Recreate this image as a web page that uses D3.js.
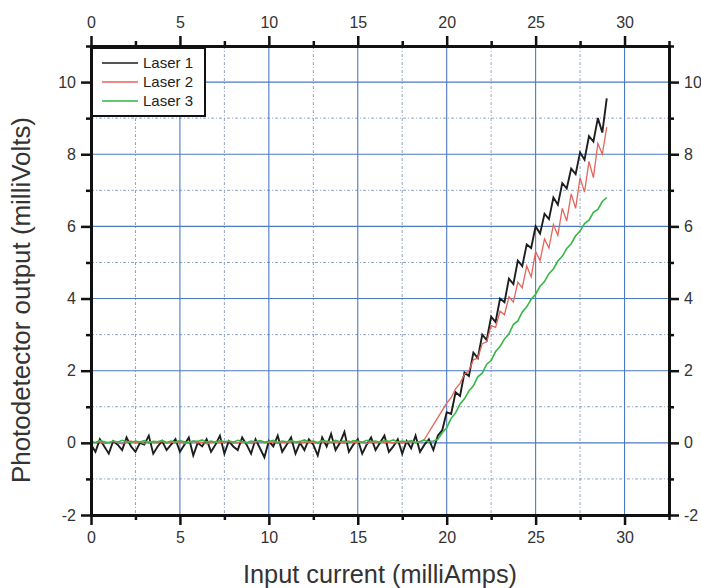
<!DOCTYPE html>
<html><head><meta charset="utf-8">
<script src="https://cdn.jsdelivr.net/npm/d3@7"></script>
<style>body{margin:0;background:#fff}svg{display:block}text{font-family:"Liberation Sans",Arial,sans-serif}</style>
</head><body><svg id="c" width="701" height="588"></svg>
<script>
// ---- data ----
const current = [0,0.25,0.5,0.75,1,1.25,1.5,1.75,2,2.25,2.5,2.75,3,3.25,3.5,3.75,4,4.25,4.5,4.75,5,5.25,5.5,5.75,6,6.25,6.5,6.75,7,7.25,7.5,7.75,8,8.25,8.5,8.75,9,9.25,9.5,9.75,10,10.25,10.5,10.75,11,11.25,11.5,11.75,12,12.25,12.5,12.75,13,13.25,13.5,13.75,14,14.25,14.5,14.75,15,15.25,15.5,15.75,16,16.25,16.5,16.75,17,17.25,17.5,17.75,18,18.25,18.5,18.75,19,19.25,19.5,19.75,20,20.25,20.5,20.75,21,21.25,21.5,21.75,22,22.25,22.5,22.75,23,23.25,23.5,23.75,24,24.25,24.5,24.75,25,25.25,25.5,25.75,26,26.25,26.5,26.75,27,27.25,27.5,27.75,28,28.25,28.5,28.75,29];
const laser1 = [-0.05,-0.25,0.1,-0.1,-0.3,0.05,-0.05,-0.2,0.15,-0.1,
 -0.25,0.0,-0.05,0.2,-0.3,-0.1,0.05,-0.2,-0.05,0.1,
 -0.25,-0.05,0.15,-0.35,0.0,-0.1,0.1,-0.25,-0.05,0.2,
 -0.3,0.05,-0.1,-0.2,0.15,-0.05,-0.3,0.1,-0.15,-0.4,
 0.05,-0.1,0.2,-0.25,-0.05,0.15,-0.3,0.0,-0.2,0.1,
 -0.05,-0.35,0.15,-0.1,0.25,-0.2,0.0,0.3,-0.25,-0.05,
 0.1,-0.3,-0.05,0.15,-0.2,0.0,0.2,-0.25,-0.1,0.1,
 -0.3,0.05,-0.15,0.2,-0.25,-0.05,0.1,-0.2,
 0.2,0.35,0.85,0.8,1.4,1.3,1.95,1.85,2.5,2.35,
 3.0,2.85,3.5,3.35,4.0,3.9,4.55,4.4,5.05,4.9,
 5.5,5.4,6.0,5.8,6.35,6.2,6.8,6.6,7.2,7.05,
 7.6,7.45,8.05,7.85,8.5,8.35,9.0,8.6,9.55];
const laser2 = [0.02,0.0,0.03,-0.02,0.01,0.04,0.0,-0.03,0.02,0.05,
 0.0,0.02,-0.02,0.03,0.01,0.0,0.04,-0.01,0.02,0.0,
 0.03,-0.02,0.01,0.05,0.0,0.02,-0.03,0.01,0.03,0.0,
 0.02,0.04,-0.01,0.0,0.03,0.01,-0.02,0.02,0.05,0.0,
 0.01,0.03,-0.02,0.02,0.0,0.04,0.01,-0.01,0.03,0.0,
 0.02,-0.02,0.04,0.01,0.0,0.03,0.02,-0.01,0.05,0.0,
 0.02,0.01,-0.02,0.03,0.0,0.04,0.01,0.02,-0.01,0.03,
 0.0,0.02,0.04,0.01,0.03,
 0.1,0.3,0.5,0.7,0.9,1.1,1.25,1.5,1.65,1.9,
 2.0,2.3,2.35,2.75,2.8,3.25,3.2,3.65,3.55,4.05,
 3.9,4.45,4.3,4.9,4.6,5.3,5.05,5.65,5.4,6.05,
 5.75,6.5,6.15,6.9,6.5,7.35,6.95,7.8,7.35,8.3,
 8.0,8.75];
const laser3 = [0.04,0.01,0.06,0.03,0.0,0.05,0.02,0.07,0.03,0.01,
 0.05,0.02,0.06,0.0,0.04,0.03,0.07,0.01,0.05,0.02,
 0.06,0.03,0.0,0.05,0.04,0.08,0.02,0.05,0.01,0.06,
 0.03,0.05,0.02,0.07,0.04,0.0,0.05,0.03,0.06,0.02,
 0.04,0.07,0.01,0.05,0.03,0.06,0.02,0.04,0.08,0.03,
 0.05,0.01,0.06,0.04,0.02,0.07,0.03,0.05,0.0,0.06,
 0.04,0.02,0.07,0.03,0.05,0.01,0.06,0.04,0.08,0.02,
 0.05,0.03,0.06,0.01,0.04,0.07,0.03,0.05,
 0.1,0.28,0.42,0.68,0.83,1.08,1.22,1.44,1.58,1.83,
 1.93,2.18,2.28,2.53,2.67,2.88,3.02,3.28,3.38,3.63,
 3.77,3.98,4.12,4.34,4.47,4.69,4.82,5.04,5.17,5.39,
 5.52,5.74,5.87,6.08,6.17,6.39,6.47,6.69,6.8];
const seriesNames = ["Laser 1","Laser 2","Laser 3"];
const seriesColors = ["#1e1e1e","#e2665a","#35b845"];
const xTicks = [0,5,10,15,20,25,30];
const xMinor = [2.5,7.5,12.5,17.5,22.5,27.5,32.5];
const yTicks = [-2,0,2,4,6,8,10];
const yMinor = [-1,1,3,5,7,9,11];
const xTitle = "Input current (milliAmps)";
const yTitle = "Photodetector output (milliVolts)";

// ---- layout ----
const L=91, R=669, T=46, B=515;
const x = d3.scaleLinear().domain([0,32.5]).range([L,R]);
const y = d3.scaleLinear().domain([-2,11]).range([B,T]);
const svg = d3.select("#c");

// grid
const grid = svg.append("g");
grid.selectAll(".gxm").data(xMinor.filter(v=>v<32.5)).join("line")
  .attr("x1",d=>x(d)).attr("x2",d=>x(d)).attr("y1",T).attr("y2",B)
  .attr("stroke","#8ea3c9").attr("stroke-width",1).attr("stroke-dasharray","3,2,1,2");
grid.selectAll(".gym").data(yMinor.filter(v=>v<11)).join("line")
  .attr("x1",L).attr("x2",R).attr("y1",d=>y(d)).attr("y2",d=>y(d))
  .attr("stroke","#8ea3c9").attr("stroke-width",1).attr("stroke-dasharray","3,2,1,2");
grid.selectAll(".gx").data(xTicks.filter(v=>v>0)).join("line")
  .attr("x1",d=>x(d)).attr("x2",d=>x(d)).attr("y1",T).attr("y2",B)
  .attr("stroke","#4d79c2").attr("stroke-width",1.1);
grid.selectAll(".gy").data(yTicks.filter(v=>v>-2)).join("line")
  .attr("x1",L).attr("x2",R).attr("y1",d=>y(d)).attr("y2",d=>y(d))
  .attr("stroke","#4d79c2").attr("stroke-width",1.1);

// series
svg.append("clipPath").attr("id","clip").append("rect")
  .attr("x",L).attr("y",T).attr("width",R-L).attr("height",B-T);
const series = [laser1, laser2, laser3];
const widths = [1.9,1.3,1.6];
series.forEach((s,k)=>{
  const line = d3.line().x((d,i)=>x(current[i])).y(d=>y(d));
  svg.append("path").attr("clip-path","url(#clip)").attr("d",line(s))
    .attr("fill","none").attr("stroke",seriesColors[k]).attr("stroke-width",widths[k])
    .attr("stroke-linejoin","miter");
});

// axes
function axisPair(make, tr, major, minor, pad){
  const gm = svg.append("g").attr("transform",tr)
    .call(make().tickValues(minor).tickSize(5).tickSizeOuter(0).tickFormat(""));
  const g = svg.append("g").attr("transform",tr)
    .call(make().tickValues(major).tickSize(10).tickSizeOuter(0).tickPadding(pad).tickFormat(d=>String(d)));
  [gm,g].forEach(gg=>{
    gg.select(".domain").attr("stroke","#111").attr("stroke-width",3).attr("stroke-linecap","square");
    gg.selectAll(".tick line").attr("stroke","#111").attr("stroke-width",2.5);
  });
  g.selectAll(".tick text").attr("font-size",16).attr("fill","#333")
    .attr("font-family",'"Liberation Sans",Arial,sans-serif');
}
axisPair(()=>d3.axisBottom(x), `translate(0,${B})`, xTicks, xMinor, 7);
axisPair(()=>d3.axisTop(x), `translate(0,${T})`, xTicks, xMinor, 8);
axisPair(()=>d3.axisLeft(y), `translate(${L},0)`, yTicks, yMinor, 5);
axisPair(()=>d3.axisRight(y), `translate(${R},0)`, yTicks, yMinor, 5);

// legend
const lg = svg.append("g");
lg.append("rect").attr("x",92).attr("y",48).attr("width",113).attr("height",68)
  .attr("fill","#fff").attr("stroke","#111").attr("stroke-width",2);
seriesNames.forEach((n,k)=>{
  const yy = 63 + k*19;
  lg.append("line").attr("x1",102).attr("x2",138).attr("y1",yy).attr("y2",yy)
    .attr("stroke",seriesColors[k]).attr("stroke-width",1.3);
  lg.append("text").attr("x",143).attr("y",yy).attr("dy","0.35em")
    .attr("font-size",15).attr("fill","#222").text(n);
});

// titles
svg.append("text").attr("x",(L+R)/2).attr("y",583).attr("text-anchor","middle")
  .attr("font-size",25).attr("fill","#333").attr("textLength",274)
  .attr("lengthAdjust","spacingAndGlyphs").text(xTitle);
svg.append("text").attr("transform",`translate(30,300) rotate(-90)`)
  .attr("text-anchor","middle").attr("font-size",25).attr("fill","#333")
  .attr("textLength",366).attr("lengthAdjust","spacingAndGlyphs").text(yTitle);
</script>
</body></html>
